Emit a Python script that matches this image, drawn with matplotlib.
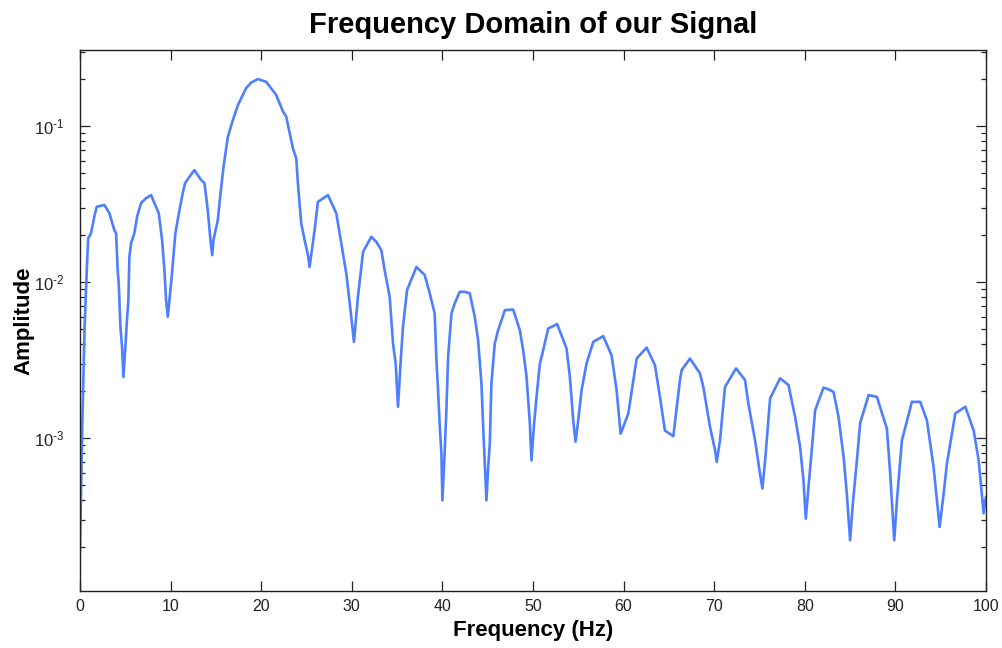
import matplotlib
matplotlib.use("Agg")
import matplotlib.pyplot as plt
from matplotlib.ticker import LogLocator, FixedLocator, NullFormatter

plt.rcParams['font.family'] = ['Liberation Sans', 'DejaVu Sans']
plt.rcParams['mathtext.fontset'] = 'custom'
plt.rcParams['mathtext.rm'] = 'Liberation Sans'
plt.rcParams['mathtext.it'] = 'Liberation Sans'
plt.rcParams['mathtext.bf'] = 'Liberation Sans:bold'

freq = [
    0, 0.25, 0.5, 0.75, 0.9, 1.22, 1.58, 1.84, 2.69, 3.24, 3.79, 3.98, 4.16, 4.27, 4.46, 4.64, 4.79,
    5.01, 5.16, 5.34, 5.45, 5.64, 6.0, 6.3, 6.74, 7.29, 7.85, 8.21, 8.69, 9.06, 9.32, 9.50, 9.69,
    9.87, 10.06, 10.31, 10.53, 10.98, 11.34, 11.6, 12.08, 12.63, 13.37, 13.74, 14.1, 14.4, 14.59,
    14.73, 15.21, 15.47, 15.84, 16.32,
    16.87, 17.42, 18.34, 18.9, 19.63, 20.55, 21.66, 22.4, 22.76, 23.5, 23.87, 24.05, 24.42, 24.79,
    25.16, 25.34, 25.52, 25.89, 26.26, 27.37, 28.29, 28.84, 29.39, 29.94, 30.24, 30.68, 31.24,
    32.15, 32.71,
    33.26, 33.63, 34.18, 34.55, 34.84, 35.1, 35.36, 35.65, 36.1, 36.39, 37.13, 38.05, 38.6, 39.15,
    39.34, 39.52, 39.7, 39.89, 40.0, 40.26, 40.44, 40.63, 41.0, 41.36, 41.91, 42.46, 43.02, 43.57,
    43.94, 44.31, 44.5, 44.86, 45.05, 45.23, 45.41, 45.78, 46.15, 46.9, 47.81, 48.55, 48.91, 49.28,
    49.65, 49.83, 50.09, 50.39, 50.76, 51.13, 51.68, 52.67, 53.7, 54.07, 54.44, 54.7, 54.99, 55.36,
    55.91, 56.65, 57.75, 58.67, 59.23, 59.67, 59.96, 60.52, 61.44, 62.54, 63.46, 64.01, 64.56, 65.49,
    66.22, 66.41, 67.33, 68.43, 68.8, 69.54, 70.09, 70.28, 70.64, 71.19, 72.41, 73.4, 73.77, 74.51,
    75.06, 75.32, 75.62, 76.17, 77.27, 78.2, 78.93, 79.48, 79.85, 80.11, 80.41, 80.77, 81.14, 82.07,
    82.6,
    83.17, 83.72, 84.28, 84.64, 85.0, 85.3, 85.75, 86.11, 87.04, 87.96, 89.06, 89.43, 89.87, 90.17,
    90.72, 91.82, 92.74, 93.48, 94.22, 94.88, 95.32, 95.69, 96.61, 97.72, 98.64, 99.19, 99.74, 100.0,
]

amplitude = [
    1.9e-4, 1.2e-3, 5.0e-3, 0.012, 0.019, 0.0206, 0.0262, 0.0304, 0.0312, 0.0277, 0.0215, 0.0206,
    0.0119, 0.0099, 0.0052, 0.00385, 0.00247,
    0.00385, 0.00546, 0.0077, 0.0145, 0.0178, 0.0206, 0.0262, 0.0321, 0.0345, 0.0361, 0.0321, 0.0277,
    0.0186, 0.0119, 0.0077, 0.0060,
    0.0077, 0.0099, 0.0145, 0.0206, 0.029, 0.0372, 0.0431, 0.0473, 0.0522, 0.0451, 0.0431, 0.029,
    0.0186, 0.0149,
    0.0186, 0.025, 0.0352, 0.0548, 0.0854,
    0.109, 0.136, 0.175, 0.190, 0.200, 0.192, 0.158, 0.124, 0.115, 0.072, 0.062, 0.043, 0.0238, 0.0186,
    0.0149, 0.0125, 0.0149, 0.0215, 0.0327, 0.0361, 0.0276, 0.0177, 0.0114, 0.0060, 0.00414, 0.00805,
    0.0156, 0.0195, 0.0181,
    0.016, 0.0119, 0.00805, 0.00404, 0.00301, 0.00159, 0.0029, 0.00517, 0.0089, 0.0098, 0.0125,
    0.0111, 0.00848, 0.0063,
    0.00316, 0.00203, 0.00123, 8.0e-4, 4.0e-4, 8.4e-4, 0.00151, 0.00332, 0.0063, 0.0073, 0.00867,
    0.00867, 0.00848, 0.0060,
    0.00425, 0.00224, 0.00118, 4.0e-4, 6.5e-4, 9.2e-4, 0.00224, 0.00404, 0.00492, 0.00662, 0.00667,
    0.00492, 0.00367, 0.0025,
    0.00125, 7.2e-4, 0.00118, 0.00184, 0.00301, 0.00367, 0.00505, 0.00538, 0.00376, 0.00247, 0.0013,
    9.5e-4, 0.0013, 0.00203,
    0.00301, 0.00414, 0.00451, 0.0034, 0.00203, 0.00107, 0.00118, 0.00144, 0.00324, 0.00381, 0.00294,
    0.00184, 0.00112, 0.00103,
    0.00236, 0.00273, 0.00324, 0.0026, 0.00213, 0.00118, 8.4e-4, 7.05e-4, 9.7e-4, 0.00213, 0.0028,
    0.00236, 0.00167, 9.7e-4,
    5.9e-4, 4.76e-4, 7.2e-4, 0.0018, 0.00242, 0.00219, 0.00137, 8.8e-4, 5.4e-4, 3.05e-4, 4.9e-4,
    8.4e-4, 0.00151, 0.00211,
    0.00206,
    0.00198, 0.00137, 7.6e-4, 4.4e-4, 2.22e-4, 3.8e-4, 7.2e-4, 0.00125, 0.00189, 0.00184, 0.00115,
    5.9e-4, 2.22e-4, 4.0e-4,
    9.7e-4, 0.00171, 0.00171, 0.0013, 6.5e-4, 2.7e-4, 4.4e-4, 6.9e-4, 0.00144, 0.00159, 0.00112,
    7.2e-4, 3.3e-4, 4.2e-4,
]

x_ticks = [0, 10, 20, 30, 40, 50, 60, 70, 80, 90, 100]
y_ticks = [1e-3, 1e-2, 1e-1]
y_tick_labels = [r'$10^{\text{-}3}$', r'$10^{\text{-}2}$', r'$10^{\text{-}1}$']

fig = plt.figure(figsize=(10.03, 6.48), dpi=100)
ax = fig.add_axes([80 / 1003, 1 - 591 / 648, 906 / 1003, 541 / 648])

ax.plot(freq, amplitude, color='#4d7fff', linewidth=1.9)
ax.set_yscale('log')
ax.set_xlim(0, 100)
ax.set_ylim(1.05e-4, 0.307)

ax.set_xticks(x_ticks)
ax.set_xticklabels([str(t) for t in x_ticks])
ax.yaxis.set_major_locator(FixedLocator(y_ticks))
ax.set_yticklabels(y_tick_labels)
ax.yaxis.set_minor_locator(LogLocator(base=10, subs=range(2, 10), numticks=20))
ax.yaxis.set_minor_formatter(NullFormatter())

ax.tick_params(axis='both', which='major', direction='in', length=7, width=0.9,
               top=True, right=True, labelsize=11.5, colors='#222222', labelcolor='#222222')
ax.tick_params(axis='y', which='major', pad=11, labelsize=12)
ax.tick_params(axis='x', which='major', pad=6)
ax.tick_params(axis='y', which='minor', direction='in', length=3.8, width=0.9,
               left=True, right=True, colors='#222222')
for s in ax.spines.values():
    s.set_linewidth(1.0)
    s.set_color('#222222')

ax.set_title('Frequency Domain of our Signal', fontsize=21, fontweight='bold', pad=12)
ax.set_xlabel('Frequency (Hz)', fontsize=16, fontweight='bold', labelpad=4)
ax.set_ylabel('Amplitude', fontsize=16, fontweight='bold', labelpad=0)

fig.savefig('out.png', dpi=100, facecolor='white')
